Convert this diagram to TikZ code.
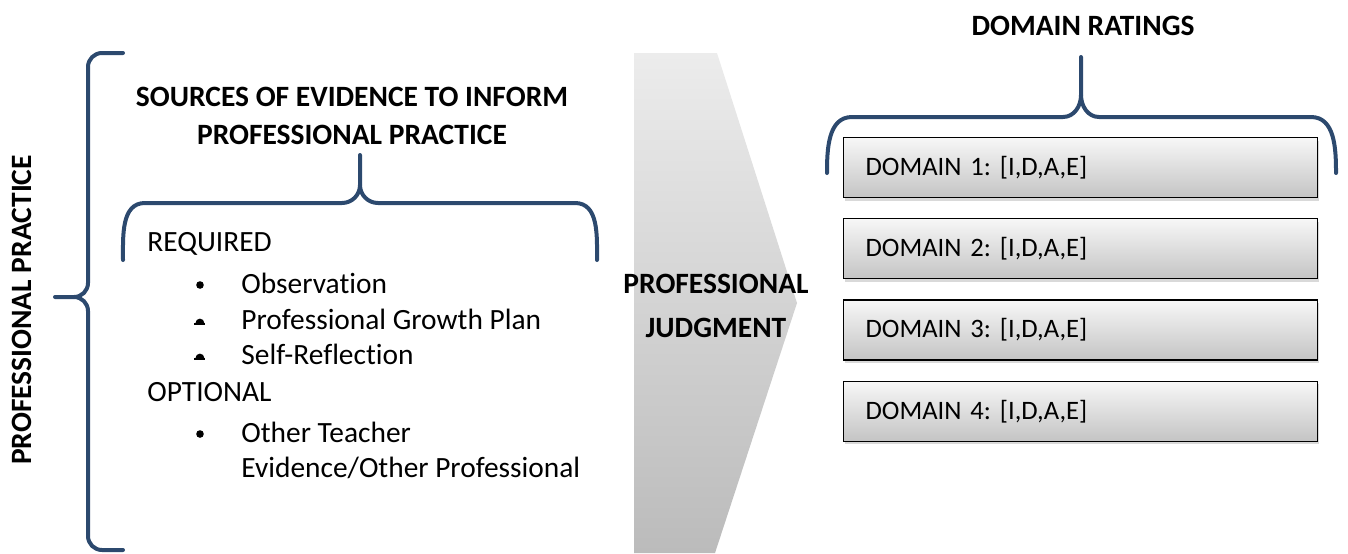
\documentclass[tikz,border=0pt]{standalone}
\usepackage{fontspec}
\setmainfont[Ligatures=NoCommon]{Carlito}
\frenchspacing
\usetikzlibrary{positioning,shadows}
\definecolor{bracenavy}{RGB}{44,73,110}
\definecolor{chevtop}{RGB}{236,236,236}
\definecolor{chevbot}{RGB}{187,187,187}
\definecolor{boxtop}{RGB}{247,247,247}
\definecolor{boxbot}{RGB}{196,196,196}

\begin{document}
\begin{tikzpicture}[x=0.5pt,y=-0.5pt,
  bracestroke/.style={draw=bracenavy,line width=2pt,line cap=round,line join=round},
  heading/.style={font=\fontsize{14.75}{19}\selectfont\bfseries,align=center,inner sep=0pt},
  itemtext/.style={font=\fontsize{14.7}{17}\selectfont,anchor=base west,inner sep=0pt},
  ratingbox/.style={draw=black,line width=0.6pt,top color=boxtop,bottom color=boxbot,
    minimum height=30pt,text width=215pt,inner xsep=11pt,align=left,
    font=\fontsize{13.3}{16}\selectfont,
    drop shadow={opacity=0.3,shadow xshift=0.6pt,shadow yshift=-1.6pt}},
  node distance=10pt]
  \useasboundingbox (0,0) rectangle (1348,553);

  % arrow shape in the middle
  \shade[top color=chevtop,bottom color=chevbot] (634,53) -- (717,53) -- (797,303) -- (715,553) -- (634,553) -- cycle;
  \node[heading] (judge) at (716,306) {PROFESSIONAL\\[3pt]JUDGMENT};

  % outer brace, left side
  \draw[bracestroke] (123,53) -- (102,53) to[out=180,in=90] (88,67) -- (88,283) to[out=-90,in=0] (74,297) -- (55,297);
  \draw[bracestroke] (74,297) to[out=0,in=90] (88,311) -- (88,536) to[out=-90,in=180] (102,550) -- (123,550);
  \node[heading,rotate=90] (practice) at (22,310) {PROFESSIONAL PRACTICE};

  % sources of evidence
  \node[heading] (sources) at (352,116) {SOURCES OF EVIDENCE TO INFORM\\PROFESSIONAL PRACTICE};
  \draw[bracestroke] (123,260) to[out=90,in=180] (145,203) -- (342,203) to[out=0,in=-90] (360,185) -- (360,155);
  \draw[bracestroke] (360,185) to[out=-90,in=180] (378,203) -- (575,203) to[out=0,in=90] (597,260);

  \node[itemtext] (req) at (147,251) {REQUIRED};
  \node[itemtext] (obs) at (241,293) {Observation};
  \node[itemtext] (pgp) at (241,329) {Professional Growth Plan};
  \node[itemtext] (self) at (241,364) {Self-Reflection};
  \node[itemtext] (opt) at (147,401) {OPTIONAL};
  \node[itemtext] (oth) at (241,442) {Other Teacher};
  \node[itemtext] (oth2) at (241,477) {Evidence/Other Professional};
  \fill (200,285) circle (1.9pt);
  \fill (200,434) circle (1.9pt);
  % odd bullet glyphs
  \foreach \by in {323,358}{
    \fill (195.5,\by) arc[start angle=180,end angle=0,radius=2.2pt] -- cycle;
    \fill (194,\by) rectangle (205,\by+1.6);
  }

  % domain ratings
  \node[heading] (ratings) at (1083,26) {DOMAIN RATINGS};
  \draw[bracestroke] (827,173) to[out=90,in=180] (852,117) -- (1063,117) to[out=0,in=-90] (1081,95) -- (1081,57);
  \draw[bracestroke] (1081,95) to[out=-90,in=180] (1099,117) -- (1311,117) to[out=0,in=90] (1336,173);

  \node[ratingbox,anchor=north west] (d1) at (843,137) {DOMAIN 1: [I,D,A,E]};
  \node[ratingbox,below=of d1] (d2) {DOMAIN 2: [I,D,A,E]};
  \node[ratingbox,below=of d2] (d3) {DOMAIN 3: [I,D,A,E]};
  \node[ratingbox,below=of d3] (d4) {DOMAIN 4: [I,D,A,E]};
\end{tikzpicture}
\end{document}
